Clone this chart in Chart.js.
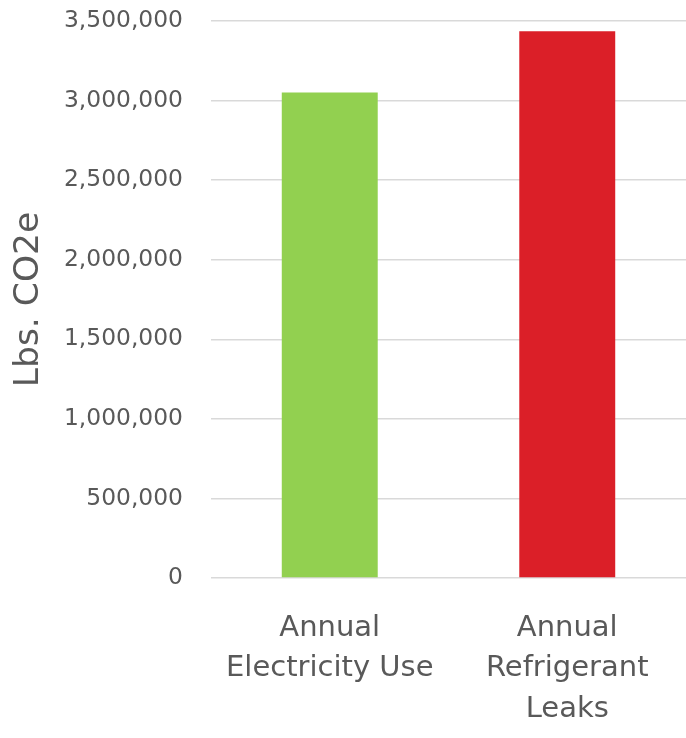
<!DOCTYPE html>
<html>
<head>
<meta charset="utf-8">
<script src="https://cdn.jsdelivr.net/npm/chart.js@4/dist/chart.umd.min.js"></script>
<style>
  html, body { margin: 0; padding: 0; background: #ffffff; }
  #wrap { width: 686px; height: 738px; }
</style>
</head>
<body>
<div id="wrap"><canvas id="co2Chart"></canvas></div>
<script>
// Dados do gráfico
const categories = [["Annual", "Electricity Use"], ["Annual", "Refrigerant", "Leaks"]]
const emissions = [3050000, 3435000]
const barColors = ["#92D050", "#DB1F28"]
const yTicks = [0, 500000, 1000000, 1500000, 2000000, 2500000, 3000000, 3500000]

const textColor = "#595959"
const fontFamily = "'DejaVu Sans', sans-serif"

new Chart(document.getElementById("co2Chart"), {
  type: "bar",
  data: {
    labels: categories,
    datasets: [
      {
        label: "Lbs. CO2e",
        data: emissions,
        backgroundColor: barColors,
        borderWidth: 0,
        categoryPercentage: 1,
        barPercentage: 0.404,
      },
    ],
  },
  options: {
    responsive: true,
    maintainAspectRatio: false,
    animation: false,
    layout: { padding: 0 },
    plugins: {
      legend: { display: false },
      tooltip: { enabled: false },
    },
    scales: {
      x: {
        grid: { display: false, drawTicks: false },
        border: { display: false },
        ticks: {
          color: textColor,
          font: { family: fontFamily, size: 29, lineHeight: 1.4 },
          padding: 30,
          maxRotation: 0,
          autoSkip: false,
        },
        afterFit: (scale) => { scale.height = 160 },
      },
      y: {
        min: 0,
        max: yTicks[yTicks.length - 1],
        afterBuildTicks: (scale) => {
          scale.ticks = yTicks.map((v) => ({ value: v }))
        },
        grid: { color: "#D9D9D9", lineWidth: 1.5, drawTicks: false },
        border: { display: false },
        ticks: {
          color: textColor,
          font: { family: fontFamily, size: 23.4 },
          padding: 28,
          callback: (v) => v.toLocaleString("en-US"),
        },
        title: {
          display: true,
          text: "Lbs. CO2e",
          color: textColor,
          font: { family: fontFamily, size: 34.5 },
          padding: { top: 8, bottom: 0 },
        },
        afterFit: (scale) => {
          scale.width = 211
          // a margem do topo inclui o padding dos ticks; fixar
          scale.paddingTop = 21
        },
      },
    },
  },
})
</script>
</body>
</html>
